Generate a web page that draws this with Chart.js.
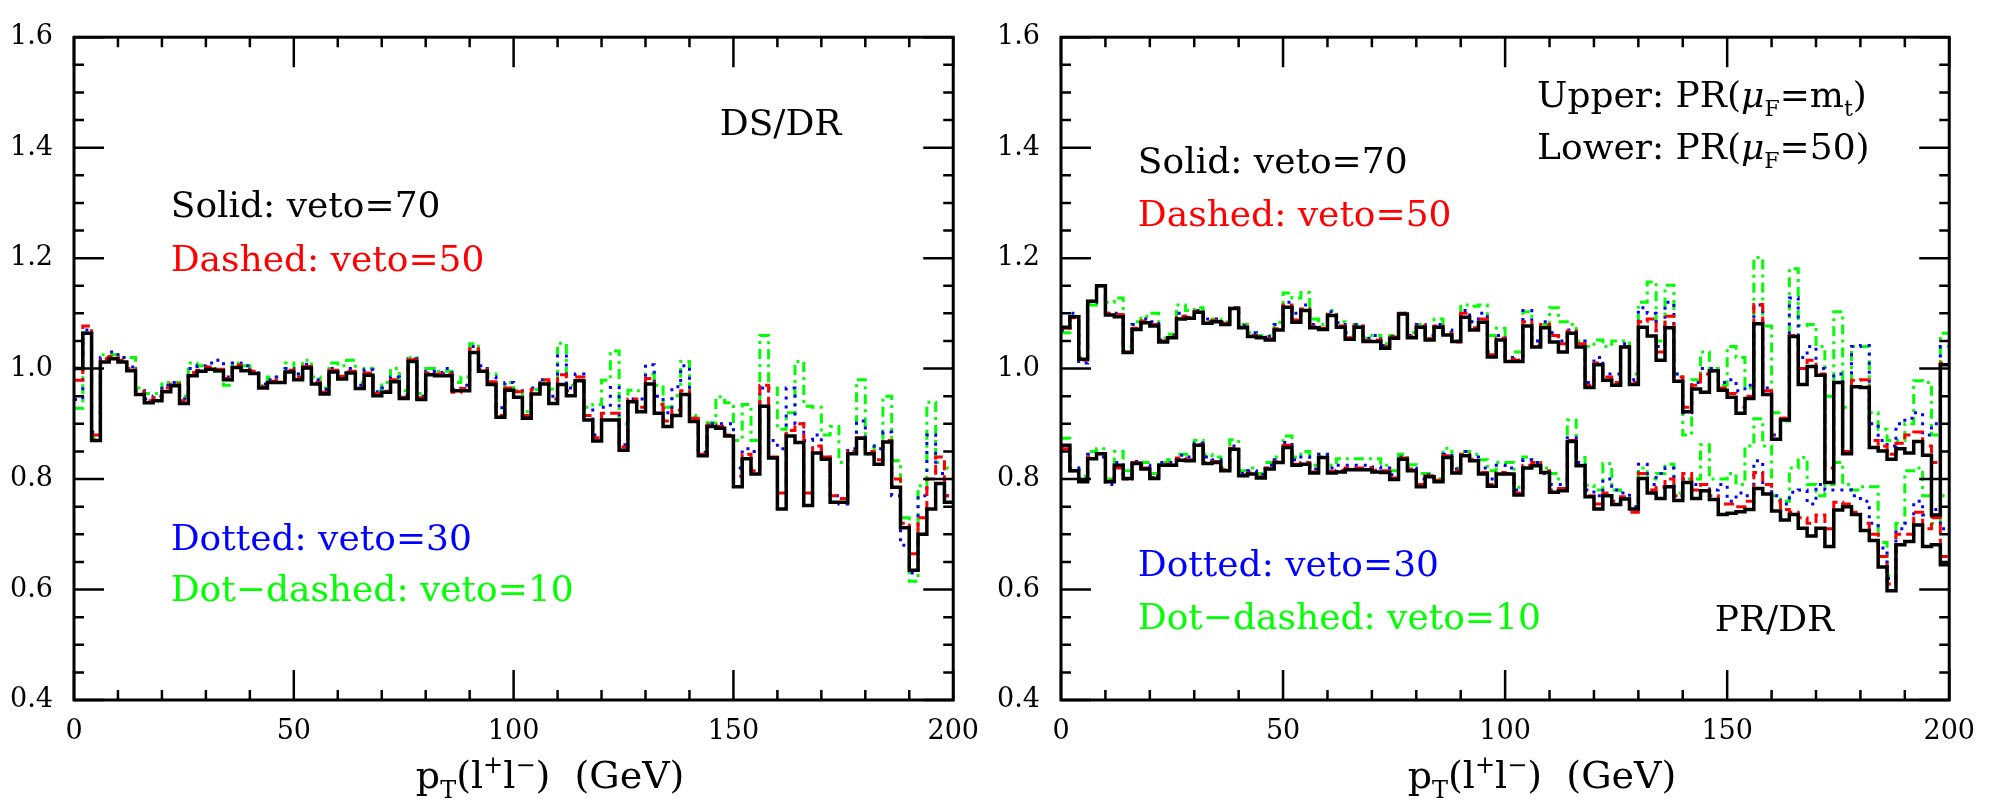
<!DOCTYPE html>
<html>
<head>
<meta charset="UTF-8">
<title>DS/DR and PR/DR ratios vs pT(l+l-)</title>
<script src="https://cdn.jsdelivr.net/npm/chart.js"></script>
<style>
  body { margin: 0; background: #fff; }
  canvas { position: absolute; top: 0; }
</style>
</head>
<body>
<canvas id="left" width="995" height="800" style="left:0"></canvas>
<canvas id="right" width="996" height="800" style="left:995px"></canvas>
<script>
// 100 bins of 2 GeV from 0 to 200
const binWidth = 2;
const xTicks = [0, 50, 100, 150, 200];
const yTicks = [0.4, 0.6, 0.8, 1.0, 1.2, 1.4, 1.6];

// left panel: DS/DR
const dsdr70 = [1.000,1.064,0.870,1.012,1.018,1.012,0.996,0.953,0.938,0.942,
  0.958,0.969,0.937,0.987,0.995,0.999,0.996,0.980,1.002,0.996,
  0.991,0.965,0.975,0.975,0.994,0.980,1.001,0.972,0.954,0.994,
  0.981,0.992,0.964,0.988,0.951,0.957,0.976,0.946,1.013,0.944,
  0.989,0.987,0.987,0.960,0.960,1.029,0.995,0.971,0.912,0.961,
  0.948,0.910,0.954,0.972,0.937,0.971,0.951,0.978,0.907,0.869,
  0.907,0.907,0.852,0.940,0.922,0.972,0.919,0.895,0.915,0.953,
  0.904,0.842,0.895,0.892,0.878,0.786,0.837,0.809,0.932,0.838,
  0.746,0.878,0.866,0.752,0.847,0.836,0.758,0.758,0.846,0.874,
  0.846,0.827,0.867,0.785,0.712,0.635,0.700,0.746,0.792,0.758];
const dsdr50 = [0.979,1.077,0.880,1.018,1.022,1.015,1.000,0.958,0.942,0.947,
  0.965,0.972,0.942,0.993,0.997,1.003,0.999,0.982,1.006,0.999,
  0.995,0.967,0.977,0.980,0.997,0.985,1.004,0.975,0.957,0.997,
  0.986,0.995,0.966,0.992,0.955,0.959,0.980,0.948,1.016,0.947,
  0.992,0.990,0.990,0.957,0.964,1.036,0.999,0.976,0.915,0.965,
  0.958,0.915,0.962,0.980,0.945,0.989,0.960,0.985,0.915,0.875,
  0.919,0.919,0.858,0.945,0.930,0.982,0.935,0.905,0.925,0.960,
  0.910,0.845,0.898,0.895,0.880,0.805,0.845,0.815,0.970,0.840,
  0.775,0.888,0.900,0.775,0.860,0.840,0.770,0.765,0.850,0.875,
  0.850,0.835,0.870,0.800,0.720,0.665,0.730,0.800,0.840,0.770];
const dsdr30 = [0.944,1.070,0.885,1.020,1.030,1.020,1.003,0.960,0.945,0.950,
  0.970,0.975,0.945,1.000,1.005,1.010,1.015,0.985,1.010,1.005,
  0.995,0.972,0.980,0.985,1.000,0.990,1.008,0.980,0.962,1.000,
  0.992,1.000,0.970,0.998,0.958,0.965,0.985,0.952,1.018,0.950,
  0.995,0.993,1.000,0.962,0.970,1.040,1.005,0.985,0.929,0.975,
  0.960,0.915,0.965,0.980,0.950,1.023,0.965,0.990,0.925,0.880,
  0.930,0.966,0.862,0.945,0.945,1.007,0.950,0.920,0.967,1.005,
  0.910,0.848,0.900,0.900,0.900,0.820,0.855,0.850,0.965,0.870,
  0.855,0.965,0.900,0.870,0.880,0.840,0.770,0.755,0.855,0.905,
  0.860,0.855,0.885,0.770,0.680,0.630,0.770,0.880,0.810,0.770];
const dsdr10 = [0.928,1.065,0.875,1.025,1.025,1.020,1.020,0.965,0.955,0.955,
  0.975,0.975,0.950,1.010,1.005,1.000,0.995,0.970,1.010,1.005,
  0.995,0.970,0.985,0.985,1.010,0.990,1.015,0.985,0.965,1.010,
  1.005,1.015,0.975,1.000,0.960,0.975,1.000,0.960,1.020,0.955,
  1.000,0.995,0.995,0.975,0.985,1.045,1.000,0.990,0.912,0.975,
  0.960,0.922,0.962,0.975,0.963,1.046,0.970,0.985,0.930,0.935,
  0.979,1.032,0.900,0.961,0.960,0.990,0.970,0.930,0.951,1.013,
  0.915,0.850,0.902,0.949,0.938,0.870,0.935,0.870,1.060,0.965,
  0.890,0.920,1.013,0.932,0.930,0.880,0.895,0.830,0.850,0.980,
  0.845,0.860,0.950,0.833,0.730,0.615,0.788,0.939,0.830,0.820];

// right panel: PR/DR, upper = PR(muF=mt)
const prUp70 = [1.075,1.094,1.017,1.122,1.150,1.097,1.094,1.029,1.071,1.083,
  1.077,1.048,1.056,1.090,1.091,1.102,1.082,1.085,1.080,1.109,
  1.074,1.058,1.056,1.052,1.070,1.111,1.084,1.105,1.074,1.071,
  1.096,1.075,1.053,1.075,1.049,1.049,1.037,1.055,1.099,1.056,
  1.075,1.052,1.075,1.061,1.049,1.093,1.070,1.084,1.021,1.052,
  1.013,1.013,1.077,1.039,1.074,1.048,1.030,1.064,1.039,0.966,
  1.007,0.979,0.970,1.039,0.971,1.075,1.059,1.015,1.074,0.977,
  0.922,0.963,0.957,0.996,0.961,0.948,0.919,0.946,1.081,0.953,
  0.872,0.907,1.058,0.971,1.004,0.988,0.794,0.975,0.846,0.967,
  0.966,0.857,0.851,0.836,0.855,0.847,0.868,0.843,0.735,1.007];
const prUp50 = [1.073,1.092,1.015,1.122,1.150,1.100,1.098,1.030,1.073,1.086,
  1.080,1.050,1.058,1.095,1.093,1.104,1.085,1.087,1.082,1.110,
  1.076,1.060,1.057,1.054,1.072,1.115,1.088,1.108,1.076,1.073,
  1.098,1.077,1.056,1.077,1.051,1.052,1.040,1.057,1.100,1.058,
  1.077,1.054,1.077,1.064,1.048,1.100,1.074,1.090,1.025,1.055,
  1.017,1.015,1.085,1.043,1.080,1.060,1.045,1.068,1.045,0.970,
  1.010,0.985,0.975,1.040,0.975,1.085,1.090,1.030,1.095,0.985,
  0.930,0.970,0.990,0.995,0.965,0.955,0.930,0.950,1.116,0.960,
  0.880,0.910,1.060,1.000,1.015,0.990,0.820,0.975,0.850,0.979,
  0.980,0.870,0.860,0.845,0.865,0.880,0.885,0.860,0.830,1.010];
const prUp30 = [1.070,1.100,1.010,1.120,1.150,1.100,1.100,1.032,1.080,1.090,
  1.085,1.052,1.060,1.100,1.095,1.105,1.090,1.090,1.084,1.110,
  1.078,1.065,1.058,1.058,1.080,1.120,1.100,1.115,1.080,1.075,
  1.103,1.083,1.065,1.080,1.055,1.060,1.042,1.058,1.100,1.060,
  1.080,1.060,1.080,1.070,1.050,1.105,1.085,1.100,1.030,1.060,
  1.020,1.015,1.105,1.050,1.085,1.065,1.050,1.070,1.050,0.975,
  1.020,0.990,0.990,1.045,0.980,1.110,1.100,1.040,1.120,0.990,
  0.920,0.975,1.000,1.000,0.975,0.980,0.960,0.970,1.115,0.965,
  0.880,0.910,1.128,1.020,1.040,1.000,0.970,0.990,0.960,1.040,
  1.042,0.900,0.870,0.860,0.900,0.910,0.920,0.880,0.900,1.040];
const prUp10 = [1.065,1.095,1.020,1.115,1.150,1.120,1.128,1.040,1.085,1.095,
  1.100,1.055,1.062,1.115,1.105,1.110,1.085,1.090,1.085,1.110,
  1.080,1.065,1.060,1.060,1.084,1.137,1.128,1.138,1.090,1.080,
  1.105,1.085,1.060,1.080,1.055,1.060,1.045,1.060,1.100,1.065,
  1.080,1.055,1.090,1.065,1.050,1.115,1.113,1.115,1.060,1.073,
  1.020,1.030,1.103,1.050,1.080,1.110,1.085,1.080,1.050,1.040,
  1.052,1.040,1.050,1.050,0.990,1.120,1.157,1.050,1.151,0.990,
  0.880,0.980,1.030,1.000,0.970,1.040,1.020,0.965,1.201,1.077,
  0.920,0.905,1.181,1.078,1.080,1.040,0.950,1.103,0.930,1.040,
  1.040,0.920,0.890,0.870,0.870,0.900,0.978,0.975,0.880,1.064];

// right panel: lower = PR(muF=50)
const prLo70 = [0.861,0.815,0.795,0.837,0.846,0.795,0.825,0.801,0.828,0.818,
  0.801,0.825,0.825,0.834,0.833,0.861,0.828,0.830,0.815,0.854,
  0.806,0.809,0.802,0.818,0.830,0.857,0.825,0.827,0.811,0.839,
  0.811,0.813,0.817,0.817,0.817,0.813,0.812,0.799,0.836,0.815,
  0.786,0.804,0.795,0.839,0.811,0.842,0.833,0.809,0.787,0.809,
  0.809,0.771,0.820,0.824,0.812,0.776,0.779,0.868,0.824,0.768,
  0.746,0.770,0.754,0.764,0.746,0.801,0.775,0.765,0.786,0.761,
  0.794,0.765,0.779,0.763,0.736,0.738,0.741,0.745,0.783,0.773,
  0.742,0.726,0.736,0.711,0.697,0.711,0.678,0.744,0.750,0.736,
  0.707,0.689,0.641,0.598,0.681,0.687,0.717,0.678,0.681,0.645];
const prLo50 = [0.855,0.815,0.797,0.840,0.846,0.797,0.820,0.800,0.830,0.820,
  0.803,0.826,0.827,0.838,0.835,0.862,0.830,0.832,0.817,0.856,
  0.808,0.811,0.804,0.820,0.832,0.861,0.827,0.830,0.813,0.840,
  0.814,0.816,0.820,0.820,0.820,0.816,0.815,0.802,0.838,0.818,
  0.790,0.806,0.798,0.842,0.815,0.845,0.836,0.812,0.790,0.812,
  0.810,0.775,0.825,0.830,0.815,0.780,0.783,0.870,0.825,0.770,
  0.755,0.775,0.760,0.768,0.740,0.810,0.780,0.785,0.800,0.770,
  0.810,0.780,0.790,0.770,0.755,0.755,0.750,0.760,0.812,0.790,
  0.760,0.745,0.740,0.730,0.720,0.735,0.710,0.758,0.755,0.740,
  0.720,0.700,0.660,0.610,0.700,0.700,0.740,0.710,0.730,0.660];
const prLo30 = [0.855,0.820,0.800,0.845,0.840,0.790,0.830,0.800,0.832,0.825,
  0.805,0.830,0.830,0.843,0.840,0.865,0.840,0.835,0.818,0.860,
  0.810,0.815,0.808,0.825,0.835,0.866,0.835,0.840,0.818,0.845,
  0.820,0.825,0.825,0.825,0.825,0.822,0.820,0.808,0.840,0.820,
  0.800,0.808,0.800,0.845,0.818,0.850,0.840,0.820,0.800,0.825,
  0.820,0.780,0.835,0.830,0.810,0.790,0.790,0.875,0.830,0.780,
  0.770,0.800,0.780,0.775,0.750,0.827,0.790,0.810,0.820,0.770,
  0.800,0.790,0.790,0.780,0.790,0.760,0.775,0.770,0.833,0.790,
  0.770,0.755,0.776,0.780,0.755,0.790,0.780,0.780,0.780,0.770,
  0.760,0.720,0.675,0.620,0.710,0.720,0.760,0.735,0.745,0.710];
const prLo10 = [0.874,0.820,0.805,0.850,0.855,0.800,0.850,0.815,0.830,0.830,
  0.810,0.830,0.835,0.845,0.845,0.870,0.845,0.840,0.820,0.871,
  0.815,0.820,0.810,0.830,0.840,0.878,0.840,0.850,0.825,0.845,
  0.825,0.837,0.837,0.837,0.837,0.837,0.825,0.815,0.845,0.826,
  0.810,0.810,0.800,0.856,0.820,0.850,0.845,0.835,0.815,0.830,
  0.830,0.785,0.840,0.830,0.820,0.810,0.800,0.907,0.839,0.789,
  0.780,0.828,0.780,0.765,0.750,0.820,0.800,0.810,0.827,0.775,
  0.800,0.800,0.862,0.800,0.800,0.810,0.790,0.860,0.909,0.860,
  0.770,0.760,0.820,0.839,0.790,0.770,0.790,0.830,0.790,0.780,
  0.786,0.786,0.685,0.625,0.720,0.815,0.820,0.770,0.720,0.770];

const FONT = '"DejaVu Serif", serif';
const RED = '#ff0000', BLUE = '#0000ff', GREEN = '#00ff00';

const lineStyles = [
  { borderColor: '#000000', borderWidth: 3.5, borderDash: [] },
  { borderColor: RED, borderWidth: 3, borderDash: [10, 5] },
  { borderColor: BLUE, borderWidth: 3, borderDash: [3, 6] },
  { borderColor: GREEN, borderWidth: 3, borderDash: [10, 5, 3, 5] }
];

// histogram points: value of bin i holds from i*binWidth to (i+1)*binWidth
function histo(vals) {
  const pts = vals.map((v, i) => ({ x: i * binWidth, y: v }));
  pts.push({ x: vals.length * binWidth, y: vals[vals.length - 1] });
  return pts;
}

function drawRich(ctx, parts, x, y, size, center) {
  const fontFor = p => (p.italic ? 'italic ' : '') +
    Math.round(p.sub || p.sup ? size * 0.62 : size) + 'px ' + FONT;
  let total = 0;
  parts.forEach(p => { ctx.font = fontFor(p); total += ctx.measureText(p.t).width; });
  let cx = center ? x - total / 2 : x;
  parts.forEach(p => {
    ctx.font = fontFor(p);
    const dy = p.sub ? size * 0.25 : p.sup ? -size * 0.4 : 0;
    ctx.fillText(p.t, cx, y + dy);
    cx += ctx.measureText(p.t).width;
  });
}

// frame with inward ticks on all four sides
const framePlugin = {
  id: 'frame',
  afterDatasetsDraw(chart) {
    const { ctx, chartArea: a, scales: { x, y } } = chart;
    ctx.save();
    ctx.strokeStyle = '#000';
    ctx.lineWidth = 2.5;
    ctx.setLineDash([]);
    ctx.beginPath();
    for (let v = 0; v <= 200; v += 10) {
      const px = x.getPixelForValue(v);
      const len = v % 50 === 0 ? 30 : 10;
      ctx.moveTo(px, a.bottom); ctx.lineTo(px, a.bottom - len);
      ctx.moveTo(px, a.top); ctx.lineTo(px, a.top + len);
    }
    for (let k = 0; k <= 24; k++) {
      const py = y.getPixelForValue(0.4 + k * 0.05);
      const len = k % 4 === 0 ? 30 : 10;
      ctx.moveTo(a.left, py); ctx.lineTo(a.left + len, py);
      ctx.moveTo(a.right, py); ctx.lineTo(a.right - len, py);
    }
    ctx.stroke();
    ctx.lineWidth = 3;
    ctx.strokeRect(a.left, a.top, a.right - a.left, a.bottom - a.top);
    ctx.restore();
  }
};

const xTitle = [{ t: 'p' }, { t: 'T', sub: true }, { t: '(l' }, { t: '+', sup: true },
  { t: 'l' }, { t: '\u2212', sup: true }, { t: ')  (GeV)' }];

function notesPlugin(notes) {
  return {
    id: 'notes',
    afterDraw(chart) {
      const { ctx, scales: { x, y } } = chart;
      ctx.save();
      ctx.textAlign = 'left';
      ctx.textBaseline = 'alphabetic';
      notes.forEach(n => {
        ctx.fillStyle = n.color;
        drawRich(ctx, n.parts, x.getPixelForValue(n.x), y.getPixelForValue(n.y), 36, false);
      });
      ctx.fillStyle = '#000';
      drawRich(ctx, xTitle, x.getPixelForValue(108.3), 788, 38, true);
      ctx.restore();
    }
  };
}

function makeChart(id, series, yWidth, padRight, notes) {
  return new Chart(document.getElementById(id), {
    type: 'line',
    data: {
      datasets: series.map((vals, i) => Object.assign({
        data: histo(vals),
        stepped: 'before',
        fill: false,
        pointRadius: 0,
        borderCapStyle: 'butt'
      }, lineStyles[i % 4]))
    },
    options: {
      responsive: false,
      animation: false,
      layout: { padding: { top: 16, right: padRight, bottom: 0, left: 0 } },
      plugins: { legend: { display: false }, tooltip: { enabled: false } },
      scales: {
        x: {
          type: 'linear', min: 0, max: 200,
          grid: { display: false, drawTicks: false },
          border: { display: false },
          afterFit(s) { s.height = 100; },
          afterBuildTicks(s) { s.ticks = xTicks.map(v => ({ value: v })); },
          ticks: { padding: 16, maxRotation: 0, color: '#000', font: { family: FONT, size: 27 } }
        },
        y: {
          type: 'linear', min: 0.4, max: 1.6,
          grid: { display: false, drawTicks: false },
          border: { display: false },
          afterFit(s) { s.width = yWidth; },
          afterBuildTicks(s) { s.ticks = yTicks.map(v => ({ value: v })); },
          ticks: { padding: 21, color: '#000', font: { family: FONT, size: 27 },
                   callback: v => v.toFixed(1) }
        }
      }
    },
    plugins: [framePlugin, notesPlugin(notes)]
  });
}

makeChart('left', [dsdr70, dsdr50, dsdr30, dsdr10], 74, 29, [
  { parts: [{ t: 'DS/DR' }], color: '#000', x: 146.9, y: 1.423 },
  { parts: [{ t: 'Solid: veto=70' }], color: '#000', x: 22.0, y: 1.274 },
  { parts: [{ t: 'Dashed: veto=50' }], color: RED, x: 22.0, y: 1.177 },
  { parts: [{ t: 'Dotted: veto=30' }], color: BLUE, x: 22.0, y: 0.672 },
  { parts: [{ t: 'Dot\u2212dashed: veto=10' }], color: GREEN, x: 22.0, y: 0.579 }
]);

makeChart('right', [prUp70, prUp50, prUp30, prUp10, prLo70, prLo50, prLo30, prLo10], 66, 40, [
  { parts: [{ t: 'Upper: PR(' }, { t: '\u03bc', italic: true }, { t: 'F', sub: true },
            { t: '=m' }, { t: 't', sub: true }, { t: ')' }], color: '#000', x: 107.2, y: 1.474 },
  { parts: [{ t: 'Lower: PR(' }, { t: '\u03bc', italic: true }, { t: 'F', sub: true },
            { t: '=50)' }], color: '#000', x: 107.2, y: 1.379 },
  { parts: [{ t: 'Solid: veto=70' }], color: '#000', x: 17.3, y: 1.354 },
  { parts: [{ t: 'Dashed: veto=50' }], color: RED, x: 17.3, y: 1.258 },
  { parts: [{ t: 'Dotted: veto=30' }], color: BLUE, x: 17.3, y: 0.625 },
  { parts: [{ t: 'Dot\u2212dashed: veto=10' }], color: GREEN, x: 17.3, y: 0.528 },
  { parts: [{ t: 'PR/DR' }], color: '#000', x: 147.2, y: 0.525 }
]);
</script>
</body>
</html>
